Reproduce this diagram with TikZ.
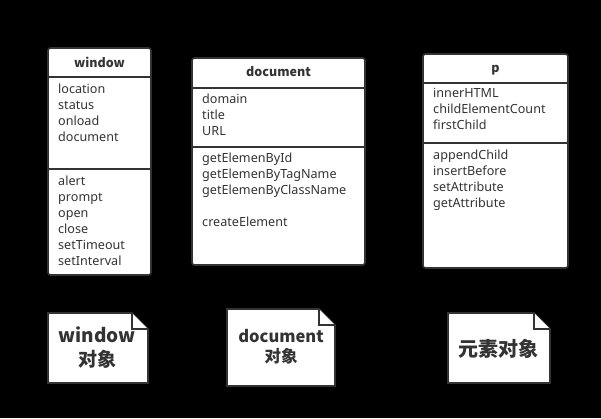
\documentclass[tikz,border=0pt]{standalone}
\usepackage{fontspec}
\setmainfont{Noto Sans}
\newfontfamily\cjk{Noto Sans CJK SC}
\begin{document}
\begin{tikzpicture}[x=1pt,y=-1pt,
  box/.style={draw=black!80,line width=1.6pt,fill=white,rounded corners=2.5pt},
  sep/.style={draw=black!80,line width=1.6pt},
  item/.style={anchor=north west,inner sep=0pt,align=left,text=black!80,font=\fontsize{12.6}{16}\selectfont},
  ttl/.style={inner sep=0pt,text=black!80,font=\cjk\bfseries\fontsize{12.5}{14}\selectfont},
  notebox/.style={draw=black!80,line width=1.6pt,fill=white},
  notetxt/.style={inner sep=0pt,align=center,text=black!80}]
\fill[black] (0,0) rectangle (601,418);
\useasboundingbox (0,0) rectangle (601,418);
% window
\draw[box] (48,48) rectangle (151,275);
\draw[sep] (48,77) -- (151,77);
\draw[sep] (48,169) -- (151,169);
\node[ttl] (wt) at (99.5,62) {window};
\node[item] (wa) at (58,83.5) {location\\status\\onload\\document};
\node[item] (wm) at (58,175.5) {alert\\prompt\\open\\close\\setTimeout\\setInterval};
% document
\draw[box] (192,58) rectangle (365,265);
\draw[sep] (192,88) -- (365,88);
\draw[sep] (192,147) -- (365,147);
\node[ttl] (dt) at (278.5,72) {document};
\node[item] (da) at (202,93.5) {domain\\title\\URL};
\node[item] (dm) at (202,152.5) {getElemenById\\getElemenByTagName\\getElemenByClassName\\[16pt]createElement};
% p
\draw[box] (423,54) rectangle (568,268);
\draw[sep] (423,83) -- (568,83);
\draw[sep] (423,143) -- (568,143);
\node[ttl] (pt) at (495.5,70) {p};
\node[item] (pa) at (433,88.5) {innerHTML\\childElementCount\\firstChild};
\node[item] (pm) at (433,149.5) {appendChild\\insertBefore\\setAttribute\\getAttribute};
% notes
\draw[notebox] (48,313) -- (132,313) -- (148,329) -- (148,383) -- (48,383) -- cycle;
\draw[notebox] (132,313) -- (132,329) -- (148,329);
\node[notetxt,font=\cjk\bfseries\fontsize{19}{24}\selectfont] (wn) at (97,348) {window\\对象};
\draw[notebox] (227,309) -- (319,309) -- (335,325) -- (335,386) -- (227,386) -- cycle;
\draw[notebox] (319,309) -- (319,325) -- (335,325);
\node[notetxt,font=\cjk\bfseries\fontsize{16.5}{20}\selectfont] (dn) at (281,347) {document\\对象};
\draw[notebox] (448,313) -- (534,313) -- (550,329) -- (550,383) -- (448,383) -- cycle;
\draw[notebox] (534,313) -- (534,329) -- (550,329);
\node[notetxt,font=\cjk\bfseries\fontsize{20}{24}\selectfont] (pn) at (498,349) {元素对象};
\end{tikzpicture}
\end{document}
